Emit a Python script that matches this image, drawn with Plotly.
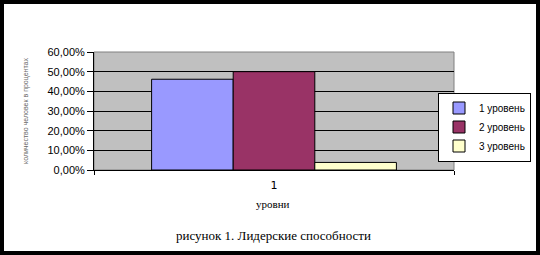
import plotly.graph_objects as go

categories = ["1"]
series_names = ["1 уровень", "2 уровень", "3 уровень"]
series_values = [[0.4615], [0.50], [0.0385]]
series_colors = ["#9999FF", "#993366", "#FFFFCC"]
y_ticks = [0, 0.1, 0.2, 0.3, 0.4, 0.5, 0.6]

W, H = 540, 255
L, R, T, B = 94, 4, 52, 85
PLOT_RIGHT = 454
PW, PH = W - L - R, H - T - B   # paper size
XDOM = (PLOT_RIGHT - L) / PW

def px_x(px):
    return (px - L) / PW

def px_y(py):
    return (H - B - py) / PH

fig = go.Figure()
for name, vals, col in zip(series_names, series_values, series_colors):
    fig.add_trace(go.Bar(x=categories, y=vals, name=name,
                         marker=dict(color=col, line=dict(color="black", width=1))))

fig.update_layout(
    width=W, height=H,
    margin=dict(l=L, r=R, t=T, b=B, pad=0, autoexpand=False),
    paper_bgcolor="white",
    plot_bgcolor="#C0C0C0",
    barmode="group", bargap=0.32, bargroupgap=0,
    separators=", ",
    font=dict(family="Liberation Sans, Arial, sans-serif", size=11, color="black"),
    showlegend=True,
    legend=dict(x=px_x(531), y=px_y(127), xanchor="right", yanchor="middle",
                bordercolor="black", borderwidth=1, bgcolor="white",
                font=dict(size=10), tracegroupgap=0, itemwidth=30),
    xaxis=dict(domain=[0, XDOM], type="category", showgrid=False, showline=True,
               linecolor="black", linewidth=1, ticks="outside", tickson="boundaries",
               ticklen=4, tickcolor="black", ticklabelstandoff=5,
               tickfont=dict(size=11, family="DejaVu Sans, sans-serif")),
    yaxis=dict(range=[0, 0.6], tickvals=y_ticks, tickformat=".2%",
               showgrid=True, gridcolor="black", gridwidth=1,
               showline=True, linecolor="black", linewidth=1,
               ticks="outside", ticklen=6, tickcolor="black",
               zeroline=False, tickfont=dict(size=11)),
)

# plot-area border (grey) and outer black frame
fig.add_shape(type="rect", xref="paper", yref="paper", x0=0, x1=XDOM, y0=0, y1=1,
              line=dict(color="#808080", width=1), layer="below")
fig.add_shape(type="rect", xref="paper", yref="paper",
              x0=px_x(2), x1=px_x(538), y0=px_y(2), y1=px_y(253),
              line=dict(color="black", width=4))

fig.add_annotation(text="количество человек в процентах", textangle=-90,
                   xref="paper", yref="paper", x=px_x(26), y=px_y(111),
                   xanchor="center", yanchor="middle",
                   showarrow=False, font=dict(size=7, color="#666666",
                                              family="Liberation Sans, Arial, sans-serif"))
fig.add_annotation(text="уровни", xref="paper", yref="paper",
                   x=px_x(273), y=px_y(204), xanchor="center", yanchor="middle",
                   showarrow=False,
                   font=dict(size=11, family="Liberation Serif, Times New Roman, serif"))
fig.add_annotation(text="рисунок 1. Лидерские способности", xref="paper", yref="paper",
                   x=px_x(273), y=px_y(236), xanchor="center", yanchor="middle",
                   showarrow=False,
                   font=dict(size=13, family="Liberation Serif, Times New Roman, serif"))

fig.write_html("out.html")
